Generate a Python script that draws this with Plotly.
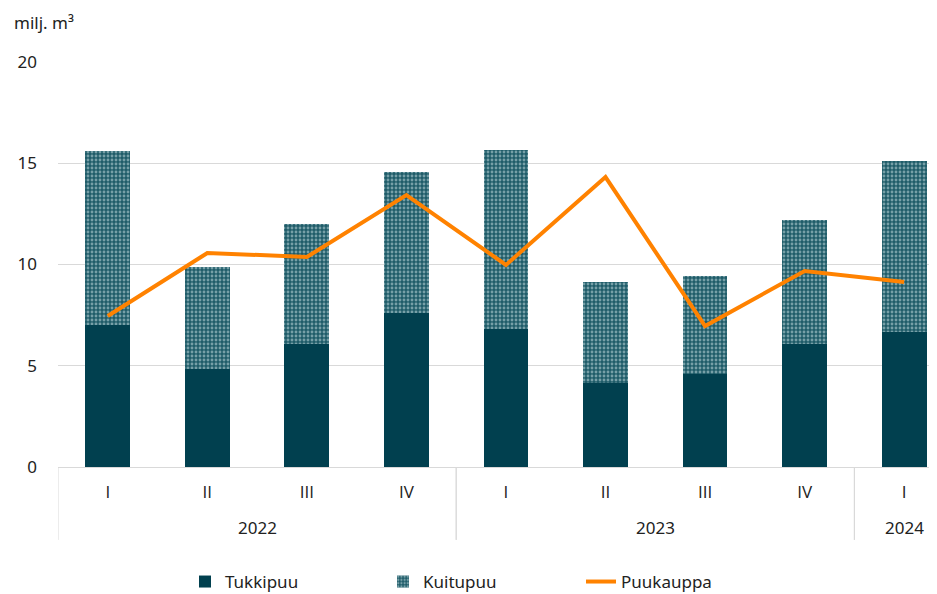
import plotly.graph_objects as go

quarters = ["I", "II", "III", "IV", "I", "II", "III", "IV", "I"]
years = ["2022", "2023", "2024"]
year_groups = [[0, 1, 2, 3], [4, 5, 6, 7], [8]]
tukkipuu = [7.0, 4.85, 6.07, 7.6, 6.81, 4.15, 4.6, 6.07, 6.67]
kuitupuu = [8.6, 5.03, 5.93, 6.97, 8.84, 4.99, 4.83, 6.13, 8.43]
puukauppa = [7.46, 10.57, 10.37, 13.43, 9.98, 14.32, 6.96, 9.68, 9.14]

FONT = "Noto Sans"
TICKFONT = "Open Sans"
TEAL = "#01404f"
TXT = "#222222"
x = list(range(len(quarters)))

fig = go.Figure()
fig.add_trace(go.Bar(x=x, y=tukkipuu, name="Tukkipuu", marker=dict(color=TEAL, line=dict(width=0)), width=0.45))
fig.add_trace(go.Bar(x=x, y=kuitupuu, name="Kuitupuu", width=0.45,
                     marker=dict(color="#2b6a78", line=dict(width=0),
                                 pattern=dict(shape=".", fgcolor="#cfe3e7", bgcolor="#1f5c69", size=4, solidity=0.4, fillmode="overlay"))))
fig.add_trace(go.Scatter(x=x, y=puukauppa, name="Puukauppa", mode="lines", line=dict(color="#ff8200", width=4)))

shapes = []
for g in year_groups:
    for xb in (g[0] - 0.5, g[-1] + 0.5):
        if xb < len(quarters) - 0.5:
            shapes.append(dict(type="line", xref="x", yref="paper", x0=xb, x1=xb, y0=0, y1=-0.18,
                               line=dict(color="#d9d9d9", width=1)))
annotations = []
for yr, g in zip(years, year_groups):
    annotations.append(dict(x=sum(g) / len(g), y=0, xref="x", yref="paper", yshift=-60, yanchor="middle", text=yr,
                            showarrow=False, font=dict(family=FONT, size=17, color=TXT)))
annotations.append(dict(x=0, y=1, xref="paper", yref="paper", xshift=-46, yshift=26, xanchor="left", yanchor="bottom",
                        text="milj. m³", showarrow=False, font=dict(family=FONT, size=17, color=TXT)))

fig.update_layout(
    width=937, height=594, barmode="stack",
    margin=dict(l=50, r=8, t=54, b=135, autoexpand=False),
    plot_bgcolor="white", paper_bgcolor="white",
    font=dict(family=FONT, size=17, color=TXT),
    xaxis=dict(tickvals=x, ticktext=quarters, range=[-0.5, 8.33], showgrid=False, automargin=False,
               showline=True, linecolor="#d9d9d9", ticks="", ticklabelstandoff=10,
               tickfont=dict(family=TICKFONT, size=17, color=TXT)),
    yaxis=dict(range=[0, 20], tickvals=[0, 5, 10, 15, 20], gridcolor="#d9d9d9", zeroline=False, automargin=False,
               ticks="", ticklabelstandoff=20, tickfont=dict(family=FONT, size=17, color=TXT)),
    legend=dict(orientation="h", x=0.1445, xanchor="left", yref="container", y=0.0337, yanchor="middle",
                traceorder="normal", entrywidth=153, entrywidthmode="pixels",
                font=dict(family=FONT, size=17, color=TXT)),
    shapes=shapes, annotations=annotations, bargap=0.55,
)
fig.write_html("out.html")
